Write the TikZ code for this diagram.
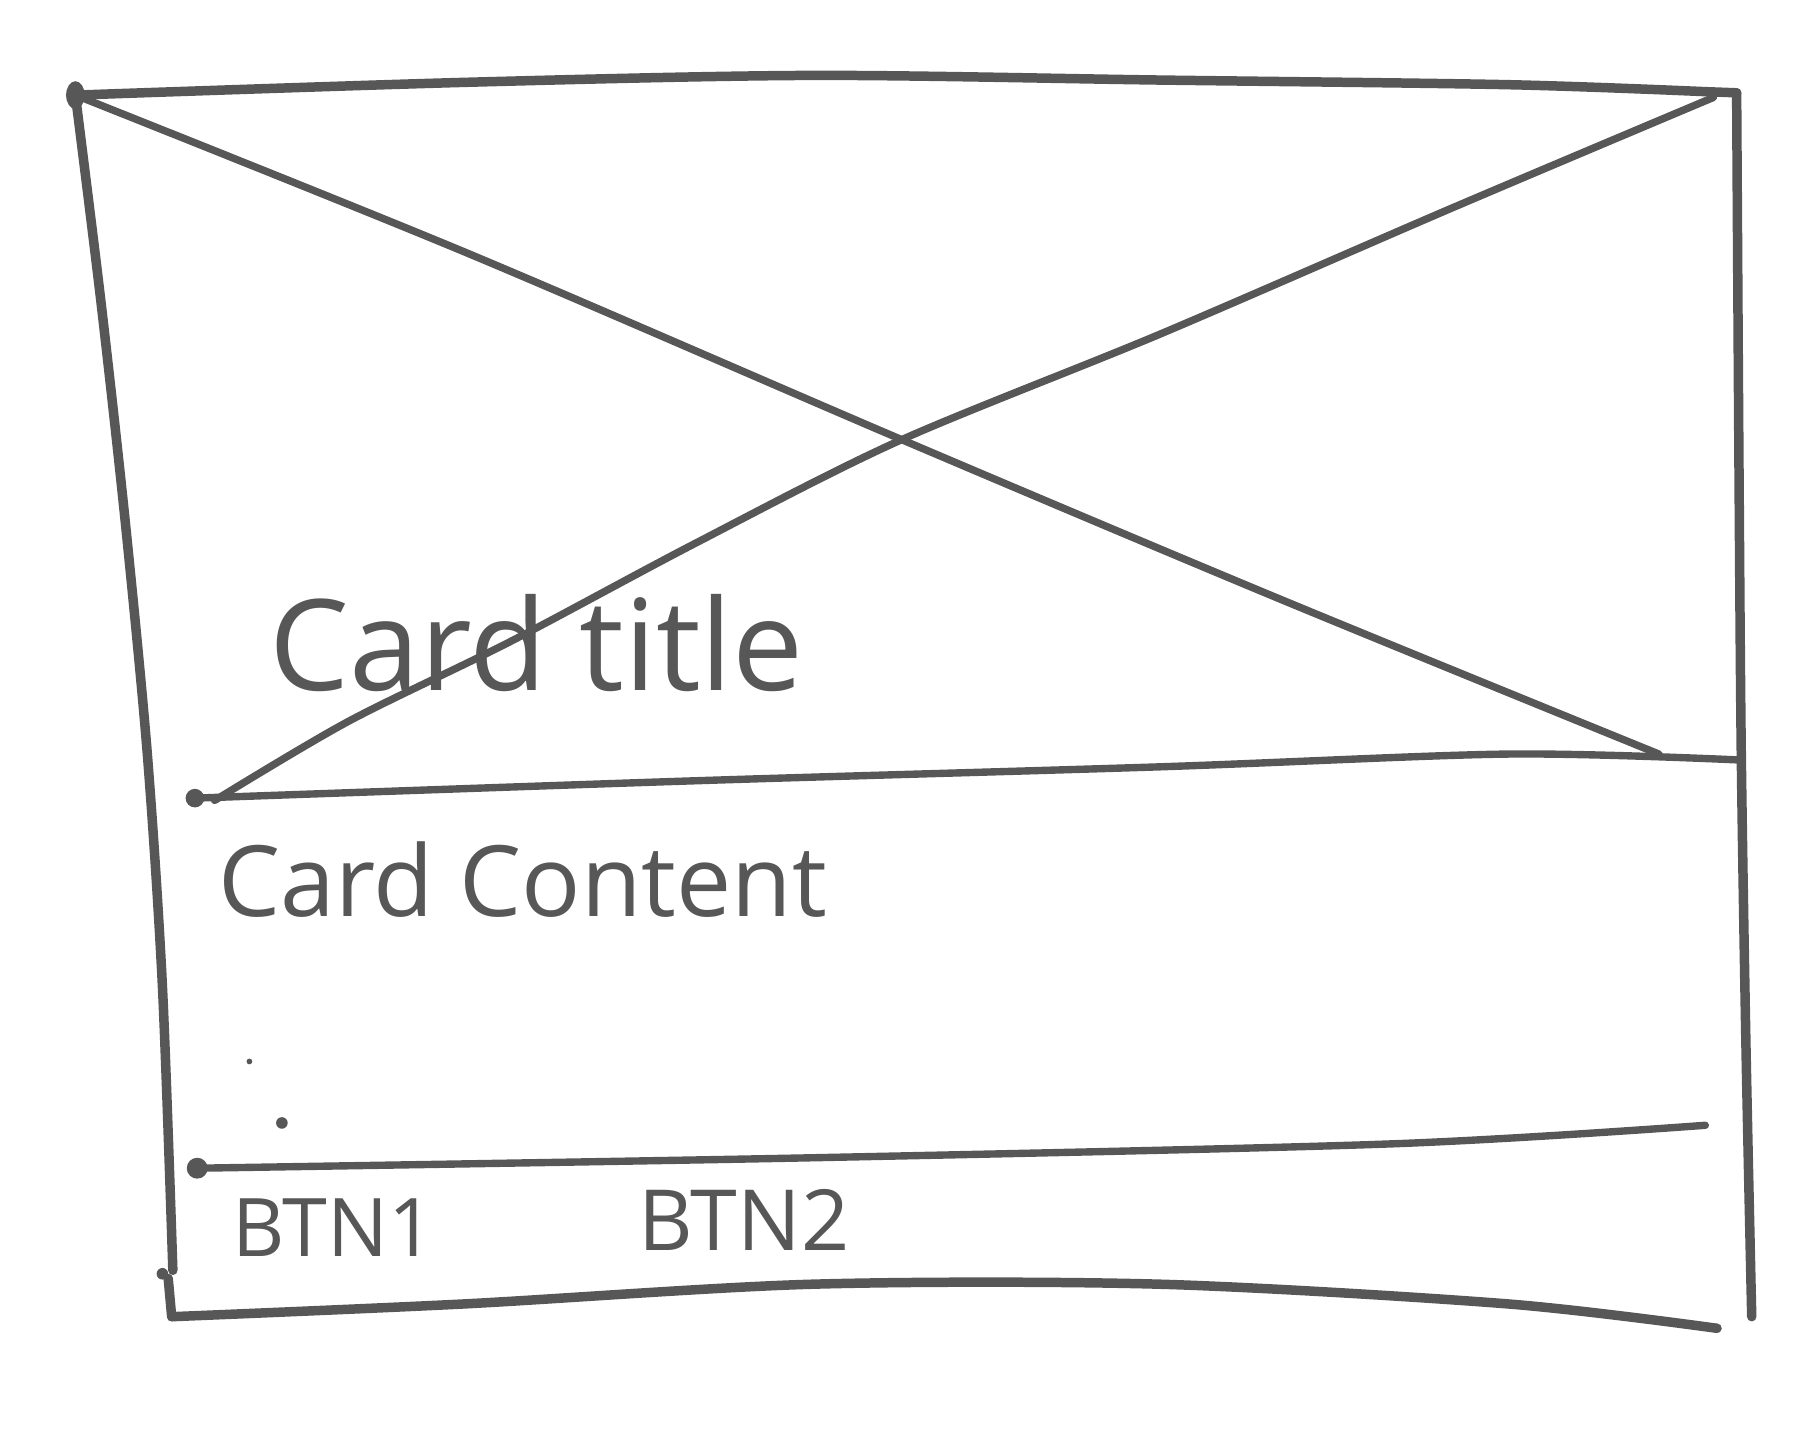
\documentclass[tikz,border=0pt]{standalone}
\usepackage{fontspec}
\setsansfont{Open Sans}
\definecolor{penGray}{HTML}{575757}
\tikzset{
  pen/.style={draw=penGray, line width=2.7pt, line cap=round, line join=round},
  thinpen/.style={pen, line width=2.1pt},
  inkdot/.style={fill=penGray, draw=none},
  hand/.style={text=penGray, inner sep=0pt, anchor=base west, font=\sffamily}
}
\begin{document}
\begin{tikzpicture}[x=0.0116cm, y=-0.0116cm]
  \useasboundingbox (0,0) rectangle (1568,1246);
  % corners of the card
  \coordinate (tl) at (65,82);
  \coordinate (tr) at (1497,80);
  \coordinate (rb) at (1510,1135);
  \coordinate (bl) at (148,1135);
  \coordinate (br) at (1480,1145);
  % ends of the dividers and of the cross
  \coordinate (divAl) at (168,688);
  \coordinate (divAr) at (1497,655);
  \coordinate (divBl) at (170,1007);
  \coordinate (divBr) at (1470,970);
  \coordinate (crossA) at (1430,650);
  \coordinate (crossB) at (185,690);
  \coordinate (crossBr) at (1477,84);

  % outer frame
  \draw[pen] plot[smooth, tension=0.5] coordinates {(tl) (400,71) (700,65) (1000,69) (1300,73) (1470,79)} -- (tr);
  \draw[pen] plot[smooth, tension=0.5] coordinates {(tr) (1499,400) (1501,650) (1505,900) (rb)};
  \draw[pen] plot[smooth, tension=0.5] coordinates {(tl) (87,260) (108,450) (127,650) (140,850) (149,1095)};
  \draw[pen] (145,1102) -- (bl);
  \draw[pen] plot[smooth, tension=0.5] coordinates {(bl) (400,1124) (700,1107) (1000,1107) (1300,1124) (br)};

  % image placeholder cross
  \draw[thinpen] plot[smooth, tension=0.5] coordinates {(tl) (400,217) (775,378) (1100,515) (crossA)};
  \draw[thinpen] plot[smooth, tension=0.5] coordinates {(crossB) (300,622) (440,553) (600,468) (775,380) (1000,288) (1250,180) (crossBr)};

  % dividers
  \draw[thinpen] plot[smooth, tension=0.5] coordinates {(divAl) (600,673) (1000,661) (1300,650) (divAr)};
  \draw[thinpen] plot[smooth, tension=0.5] coordinates {(divBl) (700,998) (1200,986) (divBr)};

  % ink blots
  \fill[inkdot] (tl) ellipse (8 and 12);
  \fill[inkdot] (divAl) circle (8);
  \fill[inkdot] (divBl) circle (9);
  \fill[inkdot] (140,1098) circle (5);
  \fill[inkdot] (br) circle (4);
  \fill[inkdot] (243,968) circle (5);
  \fill[inkdot] (215,915) circle (2.5);

  % texts
  \node[hand, font=\sffamily\fontsize{36}{40}\selectfont] (title) at (232,595) {Card title};
  \node[hand, font=\sffamily\fontsize{28}{32}\selectfont] (content) at (188,790) {Card Content};
  \node[hand, font=\sffamily\fontsize{23}{26}\selectfont] (btnA) at (200,1083) {BTN1};
  \node[hand, font=\sffamily\fontsize{24}{27}\selectfont] (btnB) at (550,1078) {BTN2};
\end{tikzpicture}
\end{document}
